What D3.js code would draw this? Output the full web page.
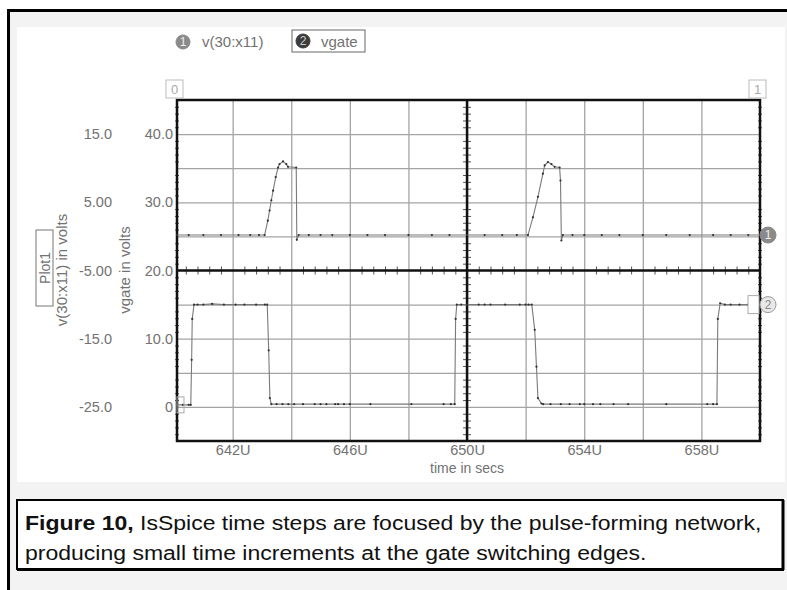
<!DOCTYPE html>
<html>
<head>
<meta charset="utf-8">
<script src="https://cdn.jsdelivr.net/npm/d3@7"></script>
<style>
  body { margin: 0; background: #fff; }
  text { font-family: "Liberation Sans", Arial, sans-serif; }
</style>
</head>
<body>
<script>
/* axis ticks and labels (time in microseconds) */
var timeGrid = [642, 644, 646, 648, 650, 652, 654, 656, 658]
var timeLabels = [642, 646, 650, 654, 658]
var v30Labels = [15, 5, -5, -15, -25]
var gateLabels = [40, 30, 20, 10, 0]
var gateGrid = [0, 5, 10, 15, 25, 30, 35, 40]

/* trace 1: v(30:x11) */
var v30Time = [640.1, 640.5, 641.0, 641.6, 642.2, 642.6, 642.9, 643.09, 643.2, 643.26,
  643.32, 643.38, 643.47, 643.55, 643.6, 643.72, 643.83, 643.89, 644.17, 644.19,
  644.25, 644.6, 645.0, 645.4, 646.0, 646.6, 647.2, 648.0, 648.8, 649.4,
  650.0, 650.6, 651.2, 651.7, 652.08, 652.25, 652.42, 652.59, 652.65, 652.76,
  652.88, 652.99, 653.16, 653.19, 653.22, 653.27, 653.6, 654.0, 654.6, 655.2,
  656.0, 656.8, 657.6, 658.4, 659.0, 659.6, 660.0]
var v30Volts = [0.2, 0.2, 0.2, 0.2, 0.2, 0.2, 0.2, 0.2, 2.3, 3.8,
  5.3, 6.7, 8.7, 10.1, 10.6, 11.0, 10.6, 10.2, 10.1, -0.5,
  0.2, 0.2, 0.2, 0.2, 0.2, 0.2, 0.2, 0.2, 0.2, 0.2,
  0.2, 0.2, 0.2, 0.2, 0.2, 2.8, 5.8, 9.2, 10.4, 10.9,
  10.6, 10.2, 10.1, 8.2, -0.6, 0.2, 0.2, 0.2, 0.2, 0.2,
  0.2, 0.2, 0.2, 0.2, 0.2, 0.2, 0.2]

/* trace 2: vgate */
var gateTime = [640.1, 640.3, 640.5, 640.57, 640.6, 640.62, 640.68, 640.8, 641.0, 641.3,
  641.7, 642.1, 642.4, 642.8, 643.1, 643.18, 643.23, 643.27, 643.32, 643.5,
  643.7, 643.9, 644.1, 644.4, 644.8, 645.0, 645.2, 645.5, 645.6, 645.8,
  646.0, 646.7, 648.1, 649.2, 649.45, 649.58, 649.61, 649.65, 649.8, 650.0,
  650.4, 650.6, 650.8, 651.3, 651.8, 652.0, 652.1, 652.21, 652.31, 652.37,
  652.42, 652.54, 652.6, 652.85, 653.2, 653.5, 653.85, 654.0, 654.3, 654.55,
  655.0, 655.5, 656.8, 658.2, 658.4, 658.53, 658.56, 658.64, 658.8, 659.0,
  659.3, 659.6, 660.0]
var gateVolts = [0.3, 0.3, 0.3, 0.3, 6.9, 12.9, 15, 15, 15, 15.1,
  15, 15, 15, 15, 15, 15, 8.3, 1.3, 0.4, 0.4,
  0.4, 0.4, 0.4, 0.4, 0.4, 0.4, 0.4, 0.4, 0.4, 0.4,
  0.4, 0.4, 0.4, 0.4, 0.4, 0.4, 12.9, 15, 15, 15,
  15, 15, 15, 15, 15, 15, 15, 15, 11.3, 5.9,
  1.3, 0.5, 0.4, 0.4, 0.4, 0.4, 0.4, 0.4, 0.4, 0.4,
  0.4, 0.4, 0.4, 0.4, 0.4, 0.4, 12.9, 15.2, 15, 15,
  15, 15, 15]

var caption1Bold = "Figure 10,"
var caption1 = " IsSpice time steps are focused by the pulse-forming network,"
var caption2 = "producing small time increments at the gate switching edges."

var plot = {left: 177, right: 760, top: 100, bottom: 441}
var grey = "#727272"

var svg = d3.select("body").append("svg")
  .attr("width", 787)
  .attr("height", 590)

/* outer frame and white chart panel */
svg.append("rect")
  .attr("x", 8.5).attr("y", 10.5)
  .attr("width", 800).attr("height", 600)
  .attr("fill", "#f3f3f3")
  .attr("stroke", "#000")
  .attr("stroke-width", 3)

svg.append("rect")
  .attr("x", 17).attr("y", 27)
  .attr("width", 768).attr("height", 455)
  .attr("fill", "#fff")

/* scales */
var x = d3.scaleLinear().domain([640.1, 660]).range([plot.left, plot.right])
var yGate = d3.scaleLinear().domain([-5, 45]).range([plot.bottom, plot.top])
var yV30 = d3.scaleLinear().domain([-30, 20]).range([plot.bottom, plot.top])
var pw = plot.right - plot.left
var ph = plot.bottom - plot.top

/* grid lines */
svg.append("g")
  .attr("class", "grid")
  .attr("transform", "translate(0," + plot.bottom + ")")
  .call(d3.axisBottom(x).tickValues(timeGrid).tickSize(-ph).tickFormat(""))

svg.append("g")
  .attr("class", "grid")
  .attr("transform", "translate(" + plot.left + ",0)")
  .call(d3.axisLeft(yGate).tickValues(gateGrid).tickSize(-pw).tickFormat(""))

svg.selectAll(".grid .domain").remove()
svg.selectAll(".grid line")
  .attr("stroke", "#a4a4a4")
  .attr("stroke-width", 1.3)

/* minor ticks along the centre lines and the side borders */
var minorT = d3.range(640.4, 660, 0.4).filter(function(t) {
  return Math.abs(t / 2 - Math.round(t / 2)) > 0.05
})
var minorV = d3.range(-4, 45, 1).filter(function(v) { return v % 5 != 0 })

var midY = yGate(20)
var midX = x(650)
;[d3.axisBottom, d3.axisTop].forEach(function(ax) {
  svg.append("g")
    .attr("class", "minor")
    .attr("transform", "translate(0," + midY + ")")
    .call(ax(x).tickValues(minorT).tickSize(4).tickFormat(""))
})
;[d3.axisLeft, d3.axisRight].forEach(function(ax) {
  svg.append("g")
    .attr("class", "minor")
    .attr("transform", "translate(" + midX + ",0)")
    .call(ax(yGate).tickValues(minorV).tickSize(4).tickFormat(""))
})
;[plot.left, plot.right].forEach(function(px) {
  svg.append("g")
    .attr("class", "minor")
    .attr("transform", "translate(" + px + ",0)")
    .call(d3.axisRight(yGate).tickValues(minorV).tickSize(2).tickFormat(""))
  svg.append("g")
    .attr("class", "minor")
    .attr("transform", "translate(" + px + ",0)")
    .call(d3.axisLeft(yGate).tickValues(minorV).tickSize(2).tickFormat(""))
})
svg.selectAll(".minor .domain").remove()
svg.selectAll(".minor line").attr("stroke", "#555").attr("stroke-width", 1)

/* the two thick centre lines and the plot border */
svg.append("line")
  .attr("x1", plot.left).attr("x2", plot.right)
  .attr("y1", midY).attr("y2", midY)
  .attr("stroke", "#111").attr("stroke-width", 2.5)
svg.append("line")
  .attr("x1", midX).attr("x2", midX)
  .attr("y1", plot.top).attr("y2", plot.bottom)
  .attr("stroke", "#111").attr("stroke-width", 2.5)
svg.append("rect")
  .attr("x", plot.left).attr("y", plot.top)
  .attr("width", pw).attr("height", ph)
  .attr("fill", "none")
  .attr("stroke", "#111").attr("stroke-width", 2.5)

/* traces */
var v30Data = v30Time.map(function(t, i) { return [t, v30Volts[i]] })
var gateData = gateTime.map(function(t, i) { return [t, gateVolts[i]] })

function addTrace(data, yScale) {
  var line = d3.line()
    .x(function(d) { return x(d[0]) })
    .y(function(d) { return yScale(d[1]) })
  var g = svg.append("g")
  g.append("path")
    .datum(data)
    .attr("d", line)
    .attr("fill", "none")
    .attr("stroke", "#7a7a7a")
    .attr("stroke-width", 1.1)
  g.selectAll("circle")
    .data(data)
    .enter()
    .append("circle")
    .attr("cx", function(d) { return x(d[0]) })
    .attr("cy", function(d) { return yScale(d[1]) })
    .attr("r", 1.1)
    .attr("fill", "#333")
}
addTrace(v30Data, yV30)
addTrace(gateData, yGate)

/* trace end markers */
var gy0 = yGate(gateVolts[0])
svg.append("rect")
  .attr("x", plot.left).attr("y", gy0 - 8)
  .attr("width", 7).attr("height", 16)
  .attr("fill", "none").attr("stroke", "#aaa")

var v30End = yV30(v30Volts[v30Volts.length - 1])
var gateEnd = yGate(gateVolts[gateVolts.length - 1])
svg.append("rect")
  .attr("x", 748).attr("y", gateEnd - 9)
  .attr("width", 11).attr("height", 18)
  .attr("fill", "#fff").attr("stroke", "#aaa")

function badge(cx, cy, label, fill, stroke, txt, r) {
  svg.append("circle")
    .attr("cx", cx).attr("cy", cy).attr("r", r || 7)
    .attr("fill", fill).attr("stroke", stroke)
  svg.append("text")
    .attr("x", cx).attr("y", cy + 4)
    .attr("text-anchor", "middle")
    .attr("font-size", 12)
    .attr("fill", txt)
    .text(label)
}
badge(768, v30End, "1", "#8a8a8a", "#8a8a8a", "#eee", 8)
badge(768, gateEnd, "2", "#e8e8e8", "#999", "#888", 8)

/* axis labels */
var fmt3 = d3.format(".3r")
function volts(d) { return d == 0 ? "0" : fmt3(d).replace("\u2212", "-") }

svg.append("g")
  .attr("class", "lbl")
  .attr("transform", "translate(" + (plot.left - 4) + ",0)")
  .call(d3.axisLeft(yGate).tickValues(gateLabels).tickSize(0).tickPadding(0).tickFormat(volts))
svg.append("g")
  .attr("class", "lbl")
  .attr("transform", "translate(112,0)")
  .call(d3.axisLeft(yV30).tickValues(v30Labels).tickSize(0).tickPadding(0).tickFormat(volts))
svg.append("g")
  .attr("class", "lbl")
  .attr("transform", "translate(0," + plot.bottom + ")")
  .call(d3.axisBottom(x).tickValues(timeLabels).tickSize(0).tickPadding(4)
    .tickFormat(function(d) { return d + "U" }))
svg.selectAll(".lbl .domain").remove()
svg.selectAll(".lbl text")
  .attr("font-family", "Liberation Sans, Arial, sans-serif")
  .attr("font-size", 14.5)
  .attr("fill", grey)

svg.append("text")
  .attr("x", x(650)).attr("y", 473)
  .attr("text-anchor", "middle")
  .attr("font-size", 14)
  .attr("fill", grey)
  .text("time in secs")

/* rotated left-hand labels */
function vlabel(px, py, str, size) {
  return svg.append("text")
    .attr("transform", "translate(" + px + "," + py + ") rotate(-90)")
    .attr("text-anchor", "middle")
    .attr("font-size", size)
    .attr("fill", grey)
    .text(str)
}
svg.append("rect")
  .attr("x", 36).attr("y", 230)
  .attr("width", 17).attr("height", 76)
  .attr("fill", "none").attr("stroke", "#777")
vlabel(49.5, 268, "Plot1", 14)
vlabel(67, 270, "v(30:x11) in volts", 15)
vlabel(130, 270, "vgate in volts", 15)

/* little corner boxes */
function cornerBox(bx, label) {
  svg.append("rect")
    .attr("x", bx).attr("y", 80)
    .attr("width", 17).attr("height", 18)
    .attr("fill", "#fff").attr("stroke", "#bbb")
  svg.append("text")
    .attr("x", bx + 8.5).attr("y", 94)
    .attr("text-anchor", "middle")
    .attr("font-size", 13)
    .attr("fill", "#aaa")
    .text(label)
}
cornerBox(166, "0")
cornerBox(749, "1")

/* legend */
badge(183, 42, "1", "#8a8a8a", "#8a8a8a", "#eee", 7)
svg.append("text")
  .attr("x", 202).attr("y", 47)
  .attr("font-size", 15).attr("fill", grey)
  .text("v(30:x11)")
svg.append("rect")
  .attr("x", 292).attr("y", 30)
  .attr("width", 73).attr("height", 22)
  .attr("fill", "none").attr("stroke", "#666")
badge(303, 41, "2", "#3c3c3c", "#3c3c3c", "#ccc", 7)
svg.append("text")
  .attr("x", 321).attr("y", 46.5)
  .attr("font-size", 15).attr("fill", grey)
  .text("vgate")

/* caption */
svg.append("rect")
  .attr("x", 17).attr("y", 500)
  .attr("width", 766).attr("height", 69)
  .attr("fill", "#fff")
  .attr("stroke", "#000").attr("stroke-width", 2)
svg.append("line")
  .attr("x1", 783).attr("x2", 783).attr("y1", 500).attr("y2", 570)
  .attr("stroke", "#000").attr("stroke-width", 3)
svg.append("line")
  .attr("x1", 17).attr("x2", 784).attr("y1", 569.5).attr("y2", 569.5)
  .attr("stroke", "#000").attr("stroke-width", 3)

var cap1 = svg.append("text")
  .attr("x", 0).attr("y", 0)
  .attr("font-size", 21).attr("fill", "#111")
cap1.append("tspan").attr("font-weight", "bold").text(caption1Bold)
cap1.append("tspan").text(caption1)
var cap2 = svg.append("text")
  .attr("x", 0).attr("y", 0)
  .attr("font-size", 21).attr("fill", "#111")
  .text(caption2)

var sx = 737 / cap1.node().getComputedTextLength()
cap1.attr("transform", "translate(25,530) scale(" + sx + ",1)")
cap2.attr("transform", "translate(25,560) scale(" + sx + ",1)")
</script>
</body>
</html>
